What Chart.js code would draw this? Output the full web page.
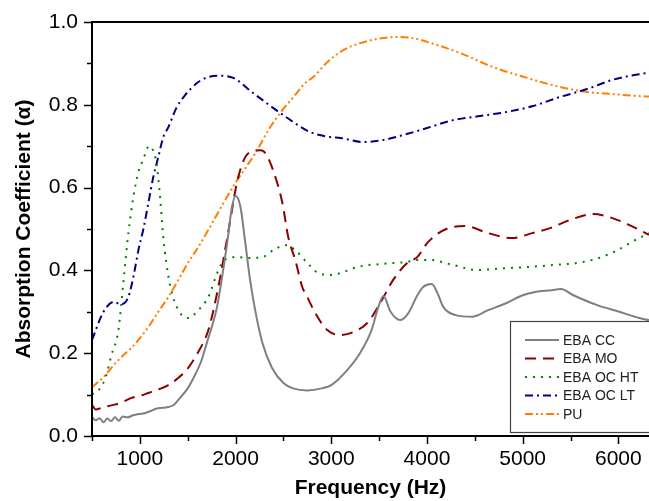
<!DOCTYPE html>
<html>
<head>
<meta charset="utf-8">
<script src="https://cdn.jsdelivr.net/npm/chart.js@4.4.1/dist/chart.umd.min.js"></script>
<style>
  html, body { margin: 0; padding: 0; background: #fff; overflow: hidden; }
  canvas { display: block; }
</style>
</head>
<body>
<canvas id="absChart" width="649" height="501"></canvas>
<script>
// values (frequency in Hz, absorption coefficient)
var ccFreq  = [500, 540, 580, 620, 660, 700, 740, 780, 820, 870, 930, 990, 1050, 1110, 1170, 1240, 1300, 1360, 1420, 1500, 1560, 1640, 1700, 1760, 1805, 1870, 1920, 1960, 2000, 2050, 2100, 2150, 2200, 2280, 2380, 2500, 2600, 2750, 2900, 3000, 3150, 3300, 3420, 3490, 3545, 3620, 3720, 3800, 3900, 3960, 4050, 4110, 4170, 4300, 4470, 4640, 4820, 5000, 5130, 5300, 5400, 5530, 5780, 6010, 6220, 6320];
var ccAlpha = [0.046, 0.038, 0.043, 0.033, 0.042, 0.036, 0.045, 0.037, 0.047, 0.045, 0.050, 0.053, 0.055, 0.060, 0.066, 0.068, 0.070, 0.076, 0.092, 0.115, 0.14, 0.18, 0.225, 0.27, 0.31, 0.40, 0.48, 0.55, 0.58, 0.555, 0.47, 0.38, 0.31, 0.225, 0.165, 0.128, 0.115, 0.11, 0.115, 0.123, 0.155, 0.20, 0.255, 0.31, 0.338, 0.30, 0.28, 0.295, 0.34, 0.36, 0.367, 0.345, 0.312, 0.292, 0.288, 0.304, 0.32, 0.34, 0.348, 0.352, 0.355, 0.34, 0.316, 0.30, 0.285, 0.28];

var moFreq  = [500, 540, 600, 700, 800, 912, 1000, 1089, 1200, 1298, 1400, 1500, 1610, 1716, 1820, 1914, 2029, 2134, 2259, 2311, 2395, 2489, 2551, 2624, 2697, 2749, 2833, 2958, 3094, 3229, 3376, 3511, 3647, 3793, 3898, 4013, 4222, 4399, 4640, 4890, 5099, 5287, 5495, 5735, 5903, 6111, 6320];
var moAlpha = [0.075, 0.064, 0.068, 0.074, 0.08, 0.092, 0.097, 0.104, 0.113, 0.123, 0.14, 0.163, 0.203, 0.256, 0.36, 0.48, 0.626, 0.683, 0.69, 0.683, 0.64, 0.563, 0.48, 0.425, 0.36, 0.336, 0.297, 0.256, 0.244, 0.251, 0.273, 0.321, 0.377, 0.418, 0.432, 0.469, 0.502, 0.507, 0.49, 0.478, 0.49, 0.502, 0.522, 0.536, 0.529, 0.51, 0.486];

var htFreq  = [500, 588, 640, 703, 776, 828, 880, 932, 985, 1037, 1079, 1110, 1141, 1173, 1214, 1245, 1277, 1319, 1402, 1507, 1611, 1716, 1809, 1883, 2018, 2134, 2280, 2395, 2520, 2624, 2749, 2864, 3010, 3125, 3271, 3386, 3511, 3647, 3773, 3898, 4034, 4274, 4525, 4796, 5047, 5318, 5568, 5798, 6000, 6150, 6320];
var htAlpha = [0.10, 0.116, 0.14, 0.195, 0.256, 0.372, 0.49, 0.577, 0.638, 0.669, 0.696, 0.70, 0.688, 0.66, 0.57, 0.48, 0.418, 0.36, 0.304, 0.285, 0.304, 0.336, 0.394, 0.425, 0.432, 0.43, 0.432, 0.449, 0.461, 0.449, 0.418, 0.394, 0.389, 0.396, 0.408, 0.413, 0.415, 0.418, 0.42, 0.425, 0.425, 0.413, 0.401, 0.405, 0.408, 0.413, 0.418, 0.43, 0.45, 0.47, 0.49];

var ltFreq  = [500, 620, 730, 800, 880, 932, 985, 1037, 1089, 1141, 1193, 1245, 1298, 1381, 1475, 1538, 1611, 1700, 1841, 1977, 2186, 2499, 2781, 2990, 3094, 3334, 3543, 3752, 4002, 4274, 4556, 4838, 5109, 5391, 5673, 5934, 6216, 6320];
var ltAlpha = [0.232, 0.30, 0.324, 0.318, 0.336, 0.384, 0.449, 0.50, 0.563, 0.626, 0.674, 0.722, 0.746, 0.792, 0.824, 0.84, 0.855, 0.866, 0.87, 0.865, 0.828, 0.775, 0.734, 0.722, 0.72, 0.71, 0.715, 0.727, 0.744, 0.763, 0.773, 0.783, 0.797, 0.819, 0.838, 0.86, 0.874, 0.877];

var puFreq  = [500, 619, 745, 849, 912, 985, 1089, 1193, 1298, 1402, 1507, 1590, 1716, 1862, 1998, 2102, 2207, 2343, 2489, 2624, 2729, 2812, 2958, 3125, 3303, 3480, 3689, 3856, 4002, 4347, 4692, 5047, 5391, 5673, 5934, 6216, 6320];
var puAlpha = [0.118, 0.142, 0.176, 0.20, 0.213, 0.232, 0.263, 0.30, 0.336, 0.377, 0.42, 0.449, 0.498, 0.558, 0.611, 0.647, 0.683, 0.739, 0.787, 0.824, 0.853, 0.867, 0.903, 0.932, 0.949, 0.959, 0.964, 0.961, 0.952, 0.925, 0.891, 0.865, 0.843, 0.831, 0.826, 0.821, 0.82];

var seriesNames = ['EBA CC', 'EBA MO', 'EBA OC HT', 'EBA OC LT', 'PU'];
var xRange = [500, 6320];
var yRange = [0, 1.0];
var xTickValues = [500, 1000, 1500, 2000, 2500, 3000, 3500, 4000, 4500, 5000, 5500, 6000];
var xTickLabels = ['', '1000', '', '2000', '', '3000', '', '4000', '', '5000', '', '6000'];
var yTickValues = [0, 0.1, 0.2, 0.3, 0.4, 0.5, 0.6, 0.7, 0.8, 0.9, 1.0];

function pairs(fx, fy) {
  var out = [];
  for (var i = 0; i < Math.min(fx.length, fy.length); i++) out.push({ x: fx[i], y: fy[i] });
  return out;
}

var FONT = '"Liberation Sans", Arial, sans-serif';
Chart.defaults.font.family = FONT;
Chart.defaults.color = '#000';

// frame, outward tick marks (major longer than minor) and x tick labels
var axesPlugin = {
  id: 'axesPlugin',
  afterDatasetsDraw: function(chart) {
    var ctx = chart.ctx, a = chart.chartArea;
    var xs = chart.scales.x, ys = chart.scales.y;
    ctx.save();
    ctx.strokeStyle = '#000';
    ctx.lineWidth = 2;
    ctx.beginPath();
    ctx.moveTo(a.left, a.top); ctx.lineTo(a.right + 2, a.top);
    ctx.moveTo(a.left, a.top - 1); ctx.lineTo(a.left, a.bottom);
    ctx.lineTo(a.right + 2, a.bottom);
    ctx.stroke();
    ctx.lineWidth = 1.5;
    ctx.beginPath();
    xTickValues.forEach(function(v, i) {
      var px = Math.round(xs.getPixelForValue(v)) + 0.5;
      var len = xTickLabels[i] ? 8 : 5;
      ctx.moveTo(px, a.bottom); ctx.lineTo(px, a.bottom + len);
    });
    yTickValues.forEach(function(v, i) {
      var py = Math.round(ys.getPixelForValue(v)) + 0.5;
      var len = i % 2 === 0 ? 8 : 5;
      ctx.moveTo(a.left, py); ctx.lineTo(a.left - len, py);
    });
    ctx.stroke();
    ctx.fillStyle = '#000';
    ctx.font = '21px ' + FONT;
    ctx.textAlign = 'center';
    ctx.textBaseline = 'top';
    xTickValues.forEach(function(v, i) {
      if (xTickLabels[i]) ctx.fillText(xTickLabels[i], xs.getPixelForValue(v), a.bottom + 13);
    });
    ctx.restore();
  }
};

// boxed legend in the lower right corner
var legendPlugin = {
  id: 'boxLegend',
  afterDraw: function(chart) {
    var ctx = chart.ctx, a = chart.chartArea;
    var bx = a.right - 139, by = a.bottom - 115;
    ctx.save();
    ctx.fillStyle = '#fff';
    ctx.fillRect(bx, by, 150, 112);
    ctx.strokeStyle = '#444';
    ctx.lineWidth = 1.2;
    ctx.strokeRect(bx + 0.5, by + 0.5, 150, 111);
    ctx.font = '14px ' + FONT;
    ctx.textBaseline = 'middle';
    chart.data.datasets.forEach(function(ds, i) {
      var yy = by + 19 + i * 18.5;
      ctx.strokeStyle = ds.borderColor;
      ctx.lineWidth = 2;
      ctx.setLineDash(ds.borderDash || []);
      ctx.beginPath();
      ctx.moveTo(bx + 15, yy); ctx.lineTo(bx + 49, yy);
      ctx.stroke();
      ctx.setLineDash([]);
      ctx.fillStyle = '#222';
      ctx.fillText(ds.label, bx + 53, yy + 1);
    });
    ctx.restore();
  }
};

function lineSet(label, fx, fy, color, dash) {
  return {
    label: label,
    data: pairs(fx, fy),
    borderColor: color,
    borderWidth: 2,
    borderDash: dash,
    pointRadius: 0,
    fill: false,
    cubicInterpolationMode: 'monotone'
  };
}

new Chart(document.getElementById('absChart'), {
  type: 'line',
  data: {
    datasets: [
      lineSet(seriesNames[0], ccFreq, ccAlpha, '#7f7f7f', []),
      lineSet(seriesNames[1], moFreq, moAlpha, '#8b0000', [11, 7]),
      lineSet(seriesNames[2], htFreq, htAlpha, '#008000', [2, 6]),
      lineSet(seriesNames[3], ltFreq, ltAlpha, '#000080', [8, 4, 2, 4]),
      lineSet(seriesNames[4], puFreq, puAlpha, '#ff7f00', [8, 3, 2, 3, 2, 3])
    ]
  },
  options: {
    responsive: false,
    animation: false,
    layout: { padding: { top: 22, right: 0, bottom: 0, left: 0 } },
    plugins: { legend: { display: false }, tooltip: { enabled: false } },
    scales: {
      x: {
        type: 'linear',
        min: xRange[0],
        max: xRange[1],
        grid: { display: false },
        border: { display: false },
        ticks: { display: false },
        title: { display: true, text: 'Frequency (Hz)', font: { size: 21, weight: 'bold' }, padding: { top: 0, bottom: 0 } },
        afterFit: function(s) { s.height = 65; }
      },
      y: {
        min: yRange[0],
        max: yRange[1],
        grid: { display: false },
        border: { display: false },
        ticks: {
          stepSize: 0.1,
          autoSkip: false,
          padding: 6,
          font: { size: 21 },
          callback: function(v) { return Math.round(v * 10) % 2 === 0 ? v.toFixed(1) : ''; }
        },
        title: { display: true, text: 'Absorption Coefficient (\u03b1)', font: { size: 21, weight: 'bold' }, padding: { top: 12, bottom: 0 } },
        afterFit: function(s) { s.width = 92; }
      }
    }
  },
  plugins: [axesPlugin, legendPlugin]
});
</script>
</body>
</html>
